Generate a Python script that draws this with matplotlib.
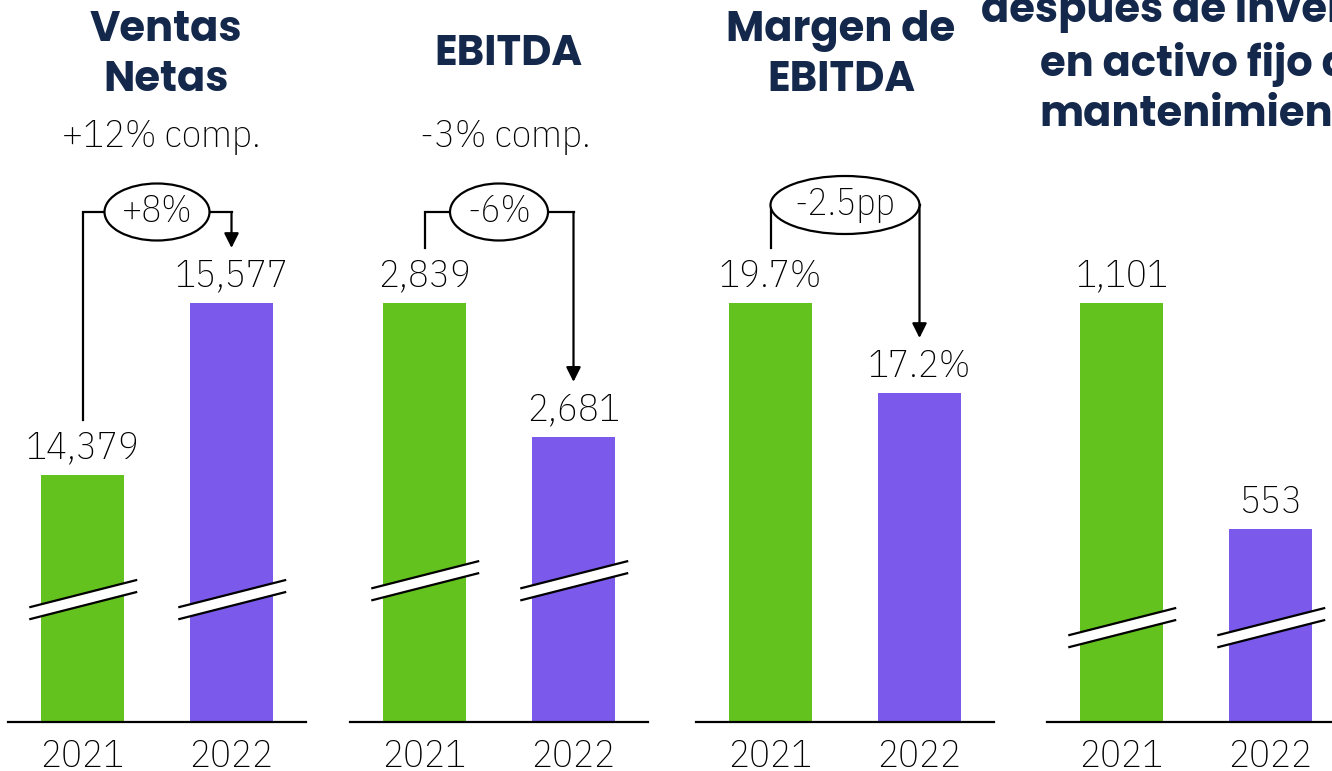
import matplotlib
matplotlib.use("Agg")
import matplotlib.pyplot as plt
from matplotlib.patches import Ellipse, Polygon
from matplotlib.transforms import blended_transform_factory, IdentityTransform

W, H = 1332, 771

# data
years = ["2021", "2022"]
ventas = [14379, 15577]
ebitda = [2839, 2681]
margen = [19.7, 17.2]
flujo = [1101, 553]

titles = ["Ventas\nNetas", "EBITDA", "Margen de\nEBITDA",
          "despues de inversión\nen activo fijo de\nmantenimiento"]
subtitles = ["+12% comp.", "-3% comp.", "", ""]
changes = ["+8%", "-6%", "-2.5pp", ""]

GREEN = "#64C21E"
PURPLE = "#7B59EA"
NAVY = "#14284B"
NUM = dict(family=["IBM Plex Sans Condensed", "Open Sans", "DejaVu Sans"],
           fontweight="light")
TITLE_FONT = ["Poppins", "Inter", "DejaVu Sans"]

# layout per panel (pixels / axis ranges)
panels = [
    dict(vals=ventas, fmt="{:,}", left=8, ylim=(12659, 16642), brk=0.180,
         by=212, ell=(105, 57), title_xy=(166, 56), sub_xy=(161, 137)),
    dict(vals=ebitda, fmt="{:,}", left=350, ylim=(2345, 3019), brk=0.213,
         by=212, ell=(98, 57), title_xy=(508, 55), sub_xy=(505, 137)),
    dict(vals=margen, fmt="{}%", left=696, ylim=(8.06, 23.95), brk=None,
         by=205, ell=(149, 58), title_xy=(841, 56), sub_xy=None),
    dict(vals=flujo, fmt="{:,}", left=1047, ylim=(85, 1472), brk=0.131,
         by=None, ell=None, title_xy=(1208, 62), sub_xy=None),
]

AX_BOTTOM, AX_H, AX_W = 49, 572, 298

fig = plt.figure(figsize=(W / 100, H / 100), dpi=100)

for k, p in enumerate(panels):
    ax = fig.add_axes([p["left"] / W, AX_BOTTOM / H, AX_W / W, AX_H / H])
    lo, hi = p["ylim"]
    vals = p["vals"]
    ax.bar([0, 1], [v - lo for v in vals], bottom=lo, width=0.557,
           color=[GREEN, PURPLE], zorder=2)
    ax.set_ylim(lo, hi)
    ax.set_xlim(-0.5, 1.5)
    ax.set_autoscale_on(False)
    for s in ["top", "left", "right"]:
        ax.spines[s].set_visible(False)
    ax.spines["bottom"].set_linewidth(1.6)
    ax.spines["bottom"].set_zorder(3)
    ax.set_yticks([])
    ax.set_xticks([0, 1])
    ax.set_xticklabels(years, fontsize=28, **NUM)
    ax.tick_params(axis="x", length=0, pad=12)

    # value labels
    for i, v in enumerate(vals):
        ax.annotate(p["fmt"].format(v), (i, v), xytext=(0, 6),
                    textcoords="offset points", ha="center", va="bottom",
                    fontsize=28, **NUM)

    trans = blended_transform_factory(ax.transData, ax.transAxes)

    # axis break marks
    if p["brk"] is not None:
        b, rise, gap = p["brk"], 0.047, 0.021
        for i in range(2):
            xl, xr = i - 0.35, i + 0.36
            poly = Polygon([(xl, b), (xr, b + rise), (xr, b + rise + gap), (xl, b + gap)],
                           closed=True, transform=trans, fc="white", ec="none",
                           zorder=4, clip_on=False)
            ax.add_patch(poly)
            ax.plot([xl, xr], [b, b + rise], transform=trans, color="black",
                    lw=1.6, zorder=5, clip_on=False)
            ax.plot([xl, xr], [b + gap, b + rise + gap], transform=trans,
                    color="black", lw=1.6, zorder=5, clip_on=False)

    # change bracket with ellipse
    if p["by"] is not None:
        def yfrac(v):
            return (v - lo) / (hi - lo)
        off = 55 / AX_H
        leg0 = yfrac(vals[0]) + off
        tip = yfrac(vals[1]) + off
        byf = (H - AX_BOTTOM - p["by"]) / AX_H
        ax.plot([0, 0, 1], [leg0, byf, byf], transform=trans, color="black",
                lw=1.6, clip_on=False, solid_joinstyle="miter", zorder=4)
        ax.annotate("", xy=(1, tip), xytext=(1, byf), xycoords=trans,
                    textcoords=trans,
                    arrowprops=dict(arrowstyle="-|>", color="black", lw=1.6,
                                    mutation_scale=22, shrinkA=0, shrinkB=0))
        cx, cy = trans.transform((0.5, byf))
        e = Ellipse((cx, cy), p["ell"][0], p["ell"][1], transform=IdentityTransform(),
                    fc="white", ec="black", lw=1.6, zorder=6, clip_on=False)
        ax.add_artist(e)
        ax.text(0.5, byf, changes[k], transform=trans, ha="center", va="center",
                fontsize=27, zorder=7, **NUM)

    # titles
    tx, ty = p["title_xy"]
    fig.text(tx / W, 1 - ty / H, titles[k], ha="center", va="center",
             fontsize=30, fontweight="bold", color=NAVY, family=TITLE_FONT,
             linespacing=1.26)
    if p["sub_xy"] is not None:
        sx, sy = p["sub_xy"]
        fig.text(sx / W, 1 - sy / H, subtitles[k], ha="center", va="center",
                 fontsize=28, **NUM)

fig.savefig("out.png", dpi=100)
